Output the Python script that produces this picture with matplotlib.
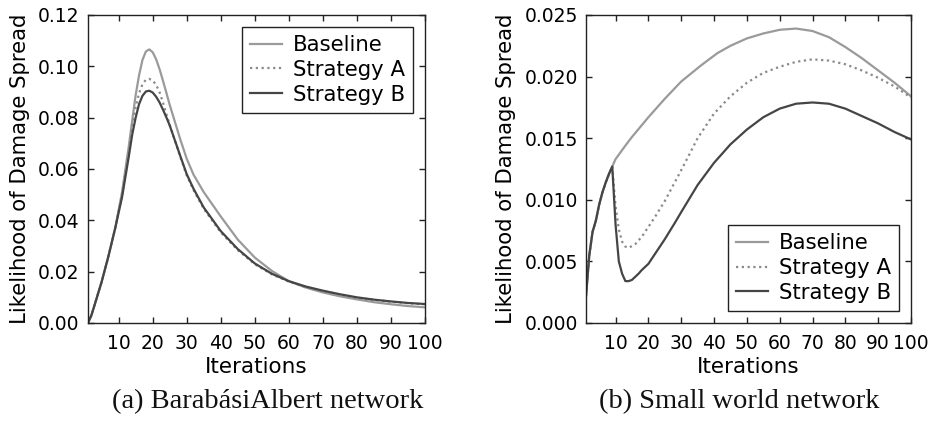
import matplotlib
matplotlib.use("Agg")
import matplotlib.pyplot as plt

# ---- Data: (a) Barabási-Albert network ----
ba_x = [1, 2, 3, 5, 7, 9, 11, 13, 14, 15, 16, 17, 18, 19, 20, 21, 22, 23, 24, 25, 28,
        30, 32, 35, 40, 45, 50, 55, 60, 65, 70, 75, 80, 85, 90, 95, 100]
ba_baseline = [0.0, 0.003, 0.0073, 0.016, 0.026, 0.037, 0.051, 0.069, 0.079, 0.0888,
               0.0965, 0.1025, 0.1058, 0.1066, 0.1055, 0.1028, 0.099, 0.0945, 0.0898,
               0.085, 0.072, 0.064, 0.0578, 0.051, 0.0415, 0.0325, 0.0255, 0.0203,
               0.0163, 0.0138, 0.0119, 0.0104, 0.0092, 0.0081, 0.0073, 0.0066, 0.0061]
ba_strategy_a = [0.0, 0.003, 0.0073, 0.016, 0.026, 0.037, 0.050, 0.067, 0.0765, 0.084,
                 0.0895, 0.093, 0.0948, 0.0951, 0.0945, 0.0928, 0.0900, 0.0860, 0.0815,
                 0.0772, 0.0652, 0.0575, 0.0518, 0.0445, 0.0353, 0.0284, 0.0229, 0.0190,
                 0.0161, 0.0140, 0.0124, 0.0111, 0.0099, 0.0090, 0.0083, 0.0077, 0.0073]
ba_strategy_b = [0.0, 0.003, 0.0073, 0.016, 0.026, 0.037, 0.049, 0.065, 0.0735, 0.080,
                 0.0853, 0.0885, 0.0902, 0.0905, 0.0898, 0.0882, 0.0860, 0.0832, 0.0802,
                 0.0770, 0.0655, 0.0580, 0.0523, 0.0450, 0.0358, 0.0288, 0.0232, 0.0192,
                 0.0163, 0.0142, 0.0126, 0.0112, 0.0100, 0.0091, 0.0084, 0.0078, 0.0074]

# ---- Data: (b) Small world network ----
sw_x_base = [1, 2, 3, 4, 5, 6, 7, 8, 9, 10, 13, 15, 20, 25, 30, 36, 41, 45, 50, 55,
             60, 65, 70, 75, 80, 85, 90, 95, 100]
sw_baseline = [0.0022, 0.0055, 0.0074, 0.0083, 0.0096, 0.0106, 0.0114, 0.0121, 0.0127,
               0.0133, 0.0144, 0.0151, 0.0167, 0.0182, 0.0196, 0.0209, 0.0219, 0.0225,
               0.0231, 0.0235, 0.0238, 0.0239, 0.0237, 0.0232, 0.0224, 0.0215, 0.0205,
               0.0195, 0.0184]
sw_x_a = [1, 2, 3, 4, 5, 6, 7, 8, 9, 10, 11, 12, 13, 14, 16, 18, 20, 22, 25, 28, 30,
          35, 40, 45, 50, 55, 60, 65, 70, 75, 80, 85, 90, 95, 100]
sw_strategy_a = [0.0022, 0.0055, 0.0074, 0.0083, 0.0096, 0.0106, 0.0114, 0.0121, 0.0127,
                 0.0095, 0.0076, 0.0066, 0.0062, 0.0061, 0.0064, 0.0070, 0.0078, 0.0086,
                 0.0099, 0.0114, 0.0124, 0.0150, 0.0170, 0.0184, 0.0195, 0.0203, 0.0208,
                 0.0212, 0.0214, 0.0213, 0.0210, 0.0205, 0.0199, 0.0192, 0.0183]
sw_x_b = [1, 2, 3, 4, 5, 6, 7, 8, 9, 10, 11, 12, 13, 14, 15, 17, 18, 20, 22, 25, 28,
          30, 35, 40, 45, 50, 55, 60, 65, 70, 75, 80, 85, 90, 95, 100]
sw_strategy_b = [0.0022, 0.0055, 0.0074, 0.0083, 0.0096, 0.0106, 0.0114, 0.0121, 0.0127,
                 0.0080, 0.0050, 0.0040, 0.0034, 0.0034, 0.0035, 0.0040, 0.0043, 0.0048,
                 0.0056, 0.0068, 0.0081, 0.0090, 0.0112, 0.0130, 0.0145, 0.0157, 0.0167,
                 0.0174, 0.0178, 0.0179, 0.0178, 0.0174, 0.0168, 0.0162, 0.0155, 0.0149]

x_ticks = [10, 20, 30, 40, 50, 60, 70, 80, 90, 100]
ba_yticks = [0.00, 0.02, 0.04, 0.06, 0.08, 0.10, 0.12]
sw_yticks = [0.000, 0.005, 0.010, 0.015, 0.020, 0.025]
series_names = ["Baseline", "Strategy A", "Strategy B"]
captions = ["(a) BarabásiAlbert network", "(b) Small world network"]

plt.rcParams["font.family"] = ["DejaVu Sans"]

fig = plt.figure(figsize=(9.36, 4.22), dpi=100)
W, H = 936, 422
axA = fig.add_axes([88 / W, (H - 323) / H, 337 / W, 308 / H])
axB = fig.add_axes([586 / W, (H - 323) / H, 325 / W, 308 / H])

c_base = "#9a9a9a"
c_a = "#8a8a8a"
c_b = "#454545"
lw = 1.6

def style(ax, yticks, fmt, loc):
    ax.set_xlim(1, 100)
    ax.set_ylim(yticks[0], yticks[-1])
    ax.set_xticks(x_ticks)
    ax.set_yticks(yticks)
    ax.set_yticklabels([fmt.format(v) for v in yticks])
    ax.tick_params(direction="in", top=True, right=True, length=4.5, width=1,
                   labelsize=13.5, color="#222222")
    ax.tick_params(axis="x", pad=8)
    ax.tick_params(axis="y", pad=6)
    for s in ax.spines.values():
        s.set_color("#222222")
        s.set_linewidth(1.0)
    ax.set_xlabel("Iterations", fontsize=15.5, labelpad=3)
    ax.set_ylabel("Likelihood of Damage Spread", fontsize=15.3, labelpad=6)
    leg = ax.legend(loc=loc, fontsize=15.3, handlelength=1.5, handletextpad=0.5,
                    labelspacing=0.22, borderpad=0.4, borderaxespad=0.55,
                    fancybox=False, framealpha=1, edgecolor="#222222")
    leg.get_frame().set_linewidth(1.0)

axA.plot(ba_x, ba_baseline, color=c_base, lw=lw, label=series_names[0])
axA.plot(ba_x, ba_strategy_a, color=c_a, lw=lw, ls=(0, (1, 1.6)), label=series_names[1])
axA.plot(ba_x, ba_strategy_b, color=c_b, lw=lw, label=series_names[2])
style(axA, ba_yticks, "{:.2f}", "upper right")

axB.plot(sw_x_base, sw_baseline, color=c_base, lw=lw, label=series_names[0])
axB.plot(sw_x_a, sw_strategy_a, color=c_a, lw=lw, ls=(0, (1, 1.6)), label=series_names[1])
axB.plot(sw_x_b, sw_strategy_b, color=c_b, lw=lw, label=series_names[2])
style(axB, sw_yticks, "{:.3f}", "lower right")

fig.text(268 / W, 1 - 402 / H, captions[0], ha="center", va="center",
         fontsize=20.5, family="Liberation Serif", color="#111111")
fig.text(739 / W, 1 - 402 / H, captions[1], ha="center", va="center",
         fontsize=20.5, family="Liberation Serif", color="#111111")

fig.savefig("out.png", dpi=100)
